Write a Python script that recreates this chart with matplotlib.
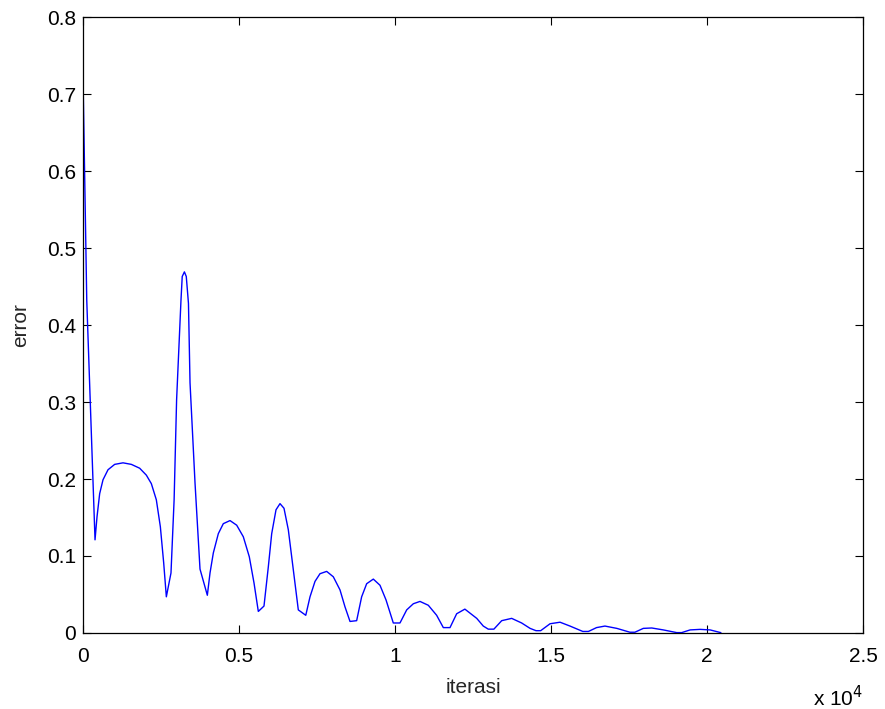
import numpy as np
import matplotlib.pyplot as plt
from matplotlib.ticker import FuncFormatter

# error per iteration
iterasi = [0, 120, 385, 449, 534, 641, 801, 1015, 1282, 1549, 1816, 2030, 2190,
           2350, 2479, 2586, 2671, 2820, 2920, 3000, 3140, 3180, 3250, 3310, 3380,
           3430, 3590, 3750, 3985, 4071, 4177, 4337, 4497, 4712, 4926, 5138, 5330,
           5481, 5619, 5801, 5940, 6048, 6186, 6314, 6442, 6581, 6741, 6901, 7140,
           7276, 7436, 7596, 7810, 8023, 8237, 8397, 8558, 8771, 8931, 9092, 9305,
           9519, 9712, 9946, 10160, 10375, 10588, 10801, 11068, 11335, 11549,
           11763, 11977, 12240, 12620, 12830, 12990, 13170, 13420, 13740, 14060,
           14330, 14520, 14670, 14970, 15290, 15610, 16020, 16200, 16460, 16730,
           17110, 17530, 17690, 17960, 18230, 18600, 19030, 19190, 19460, 19780,
           20100, 20440]
error = [0.722, 0.432, 0.121, 0.151, 0.181, 0.199, 0.212, 0.219, 0.221, 0.219,
         0.214, 0.205, 0.194, 0.173, 0.138, 0.091, 0.047, 0.078, 0.173, 0.303,
         0.432, 0.463, 0.469, 0.463, 0.428, 0.325, 0.195, 0.083, 0.049, 0.078,
         0.104, 0.129, 0.142, 0.146, 0.140, 0.125, 0.099, 0.065, 0.028, 0.035,
         0.086, 0.129, 0.160, 0.168, 0.162, 0.134, 0.082, 0.030, 0.023, 0.047,
         0.067, 0.077, 0.080, 0.073, 0.056, 0.034, 0.015, 0.016, 0.047, 0.064,
         0.070, 0.062, 0.043, 0.013, 0.013, 0.030, 0.038, 0.041, 0.036, 0.023,
         0.007, 0.007, 0.025, 0.031, 0.019, 0.009, 0.005, 0.005, 0.016, 0.019,
         0.013, 0.006, 0.003, 0.003, 0.012, 0.014, 0.009, 0.002, 0.002, 0.007,
         0.009, 0.006, 0.001, 0.001, 0.006, 0.0065, 0.004, 0.0005, 0.0005, 0.004,
         0.0047, 0.004, 0.0005]

xticks = [0, 5000, 10000, 15000, 20000, 25000]
yticks = [0, 0.1, 0.2, 0.3, 0.4, 0.5, 0.6, 0.7, 0.8]

plt.rcParams['font.family'] = ['Liberation Sans', 'DejaVu Sans']

fig = plt.figure(figsize=(8.85, 7.09), dpi=100)
ax = fig.add_axes([0.0938, 0.1072, 0.8813, 0.8688])

ax.plot(iterasi, error, color='#0000ff', lw=1.0)

ax.set_xlim(0, 25000)
ax.set_ylim(0, 0.8)
ax.set_xticks(xticks)
ax.set_yticks(yticks)
ax.xaxis.set_major_formatter(FuncFormatter(lambda v, p: '%g' % (v / 1e4)))
ax.yaxis.set_major_formatter(FuncFormatter(lambda v, p: '%g' % v))
ax.tick_params(direction='in', length=6, width=0.8, top=True, right=True,
               labelsize=15, colors='black')
ax.tick_params(axis='x', pad=10)
ax.tick_params(axis='y', pad=5)
for s in ax.spines.values():
    s.set_linewidth(0.9)

ax.set_xlabel('iterasi', fontsize=15, color='#262626', labelpad=9)
ax.set_ylabel('error', fontsize=15, color='#262626', labelpad=12)
fig.text(0.975, 0.004, 'x 10$^4$', fontsize=15, ha='right', va='baseline')

fig.savefig('out.png', dpi=100)
